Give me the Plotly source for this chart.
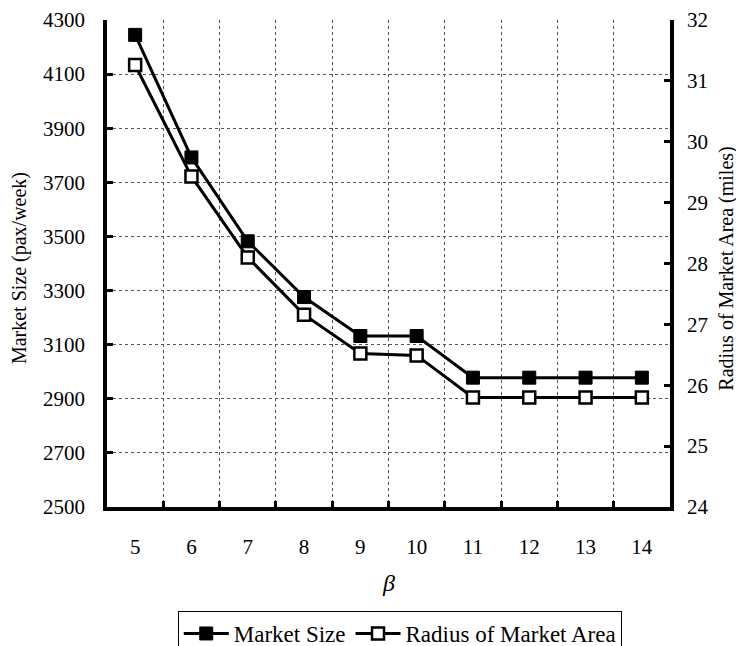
import plotly.graph_objects as go

beta = [5, 6, 7, 8, 9, 10, 11, 12, 13, 14]
market_size = [4245, 3792, 3482, 3276, 3132, 3132, 2978, 2978, 2978, 2978]
radius = [31.26, 29.43, 28.10, 27.16, 26.52, 26.49, 25.80, 25.80, 25.80, 25.80]
left_ticks = [2500, 2700, 2900, 3100, 3300, 3500, 3700, 3900, 4100, 4300]
right_ticks = [24, 25, 26, 27, 28, 29, 30, 31, 32]

FONT = "Liberation Serif"
x_cat = [str(b) for b in beta]

fig = go.Figure()
fig.add_trace(go.Scatter(
    x=x_cat, y=market_size, name="Market Size", mode="lines+markers",
    line=dict(color="black", width=3),
    marker=dict(symbol="square", size=13, color="black", line=dict(color="black", width=1)),
    yaxis="y"))
fig.add_trace(go.Scatter(
    x=x_cat, y=radius, name="Radius of Market Area", mode="lines+markers",
    line=dict(color="black", width=3),
    marker=dict(symbol="square", size=12, color="white", line=dict(color="black", width=2.5)),
    yaxis="y2"))

fig.update_layout(
    width=736, height=638,
    margin=dict(l=99, r=74, t=12, b=139, autoexpand=False),
    paper_bgcolor="white", plot_bgcolor="white",
    font=dict(family=FONT, size=21, color="black"),
    showlegend=True,
    legend=dict(orientation="h", x=0.52, xanchor="center", y=-0.2136, yanchor="top",
                bordercolor="black", borderwidth=1, bgcolor="white",
                font=dict(family=FONT, size=23, color="black"),
                itemwidth=45, tracegroupgap=0),
    xaxis=dict(type="category", categoryorder="array", categoryarray=x_cat,
               tickson="boundaries", ticks="inside", ticklen=6, tickwidth=3, tickcolor="black",
               showline=True, linewidth=3.5, linecolor="black",
               showgrid=True, gridcolor="#555555", gridwidth=1, griddash="dot",
               tickfont=dict(family=FONT, size=21, color="black"),
               ticklabelstandoff=18, range=[-0.5, 9.5], zeroline=False, automargin=False),
    yaxis=dict(range=[2500, 4300], tickvals=left_ticks, ticks="inside", ticklen=6, tickwidth=3,
               tickcolor="black", showline=True, linewidth=3.5, linecolor="black",
               showgrid=True, gridcolor="#555555", gridwidth=1, griddash="dot",
               tickfont=dict(family=FONT, size=21, color="black"), zeroline=False,
               ticklabelstandoff=14, automargin=False),
    yaxis2=dict(range=[24, 32], tickvals=right_ticks, overlaying="y", side="right",
                ticks="inside", ticklen=6, tickwidth=3, tickcolor="black",
                showline=True, linewidth=3.5, linecolor="black", showgrid=False, zeroline=False,
                tickfont=dict(family=FONT, size=21, color="black"), ticklabelstandoff=9,
                automargin=False),
    annotations=[
        dict(text="Market Size (pax/week)", textangle=-90, xref="paper", yref="paper",
             x=-0.155, y=0.49, xanchor="center", yanchor="middle", showarrow=False,
             font=dict(family=FONT, size=20, color="black")),
        dict(text="Radius of Market Area (miles)", textangle=-90, xref="paper", yref="paper",
             x=1.10, y=0.49, xanchor="center", yanchor="middle", showarrow=False,
             font=dict(family=FONT, size=20, color="black")),
        dict(text="<i>β</i>", xref="paper", yref="paper", x=0.5, y=-0.156,
             xanchor="center", yanchor="middle", showarrow=False,
             font=dict(family=FONT, size=24, color="black")),
    ],
)

fig.write_html("out.html")
